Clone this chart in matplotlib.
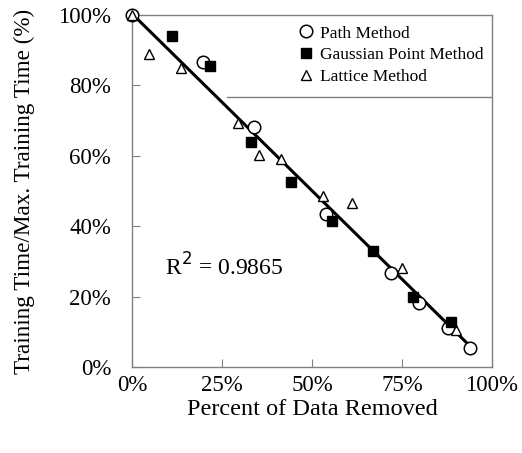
import numpy as np
import matplotlib.pyplot as plt
from matplotlib.ticker import PercentFormatter

plt.rcParams['font.family'] = ['Liberation Serif', 'DejaVu Serif']

# percent of data removed vs. relative training time
path_x = [0, 19.7, 33.9, 53.9, 71.9, 79.7, 87.8, 93.9]
path_y = [100, 86.6, 68.2, 43.5, 26.7, 18.2, 11.1, 5.4]

gauss_x = [11.1, 21.7, 33.0, 44.2, 55.6, 66.9, 78.1, 88.6]
gauss_y = [94.0, 85.5, 64.0, 52.6, 41.5, 33.0, 19.9, 12.8]

lattice_x = [0, 4.7, 13.6, 29.4, 35.3, 41.4, 53.1, 61.1, 75.0, 90.0]
lattice_y = [100, 88.8, 84.9, 69.3, 60.2, 59.1, 48.6, 46.6, 28.1, 10.5]

r2_label = 'R$^2$ = 0.9865'

# linear trend over all three methods
all_x = np.array(path_x + gauss_x + lattice_x)
all_y = np.array(path_y + gauss_y + lattice_y)
slope, icpt = np.polyfit(all_x, all_y, 1)

fig = plt.figure(figsize=(5.22, 4.53), dpi=100)
ax = fig.add_axes([0.2529, 0.1898, 0.6896, 0.7771])

gray = '#808080'

tx = np.array([0, all_x.max()])
ax.plot(tx, icpt + slope * tx, color='black', lw=2.2, zorder=2)

ax.plot(path_x, path_y, 'o', ms=9, mfc='white', mec='black', mew=1.1,
        label='Path Method', zorder=3, clip_on=False)
ax.plot(gauss_x, gauss_y, 's', ms=7, mfc='black', mec='black',
        label='Gaussian Point Method', zorder=4, clip_on=False)
ax.plot(lattice_x, lattice_y, '^', ms=7.5, mfc='white', mec='black', mew=1.0,
        label='Lattice Method', zorder=3, clip_on=False)

ax.set_xlim(0, 100)
ax.set_ylim(0, 100)
ax.set_xticks([0, 25, 50, 75, 100])
ax.set_yticks([0, 20, 40, 60, 80, 100])
ax.xaxis.set_major_formatter(PercentFormatter(decimals=0))
ax.yaxis.set_major_formatter(PercentFormatter(decimals=0))
ax.tick_params(direction='in', length=6, color=gray, labelsize=16.5)
ax.tick_params(axis='x', pad=6)
ax.tick_params(axis='y', pad=15)

for sp in ax.spines.values():
    sp.set_color(gray)
    sp.set_linewidth(1.0)

ax.set_xlabel('Percent of Data Removed', fontsize=17.5)
ax.set_ylabel('Training Time/Max. Training Time (%)', fontsize=16.7)
ax.xaxis.set_label_coords(0.5, -0.09)
ax.yaxis.set_label_coords(-0.27, 0.5)

leg = ax.legend(loc='upper left', bbox_to_anchor=(0.425, 1.0), frameon=False,
                fontsize=12.5, handletextpad=0.2, borderpad=0.6,
                borderaxespad=0, labelspacing=0.32, handlelength=1.2)
# bottom border of the legend block
ax.plot([0.264, 1.0], [0.767, 0.767], transform=ax.transAxes, color=gray, lw=1.0)

ax.text(9.2, 28.4, r2_label, fontsize=17, va='center', ha='left')

fig.savefig('out.png', dpi=100)
